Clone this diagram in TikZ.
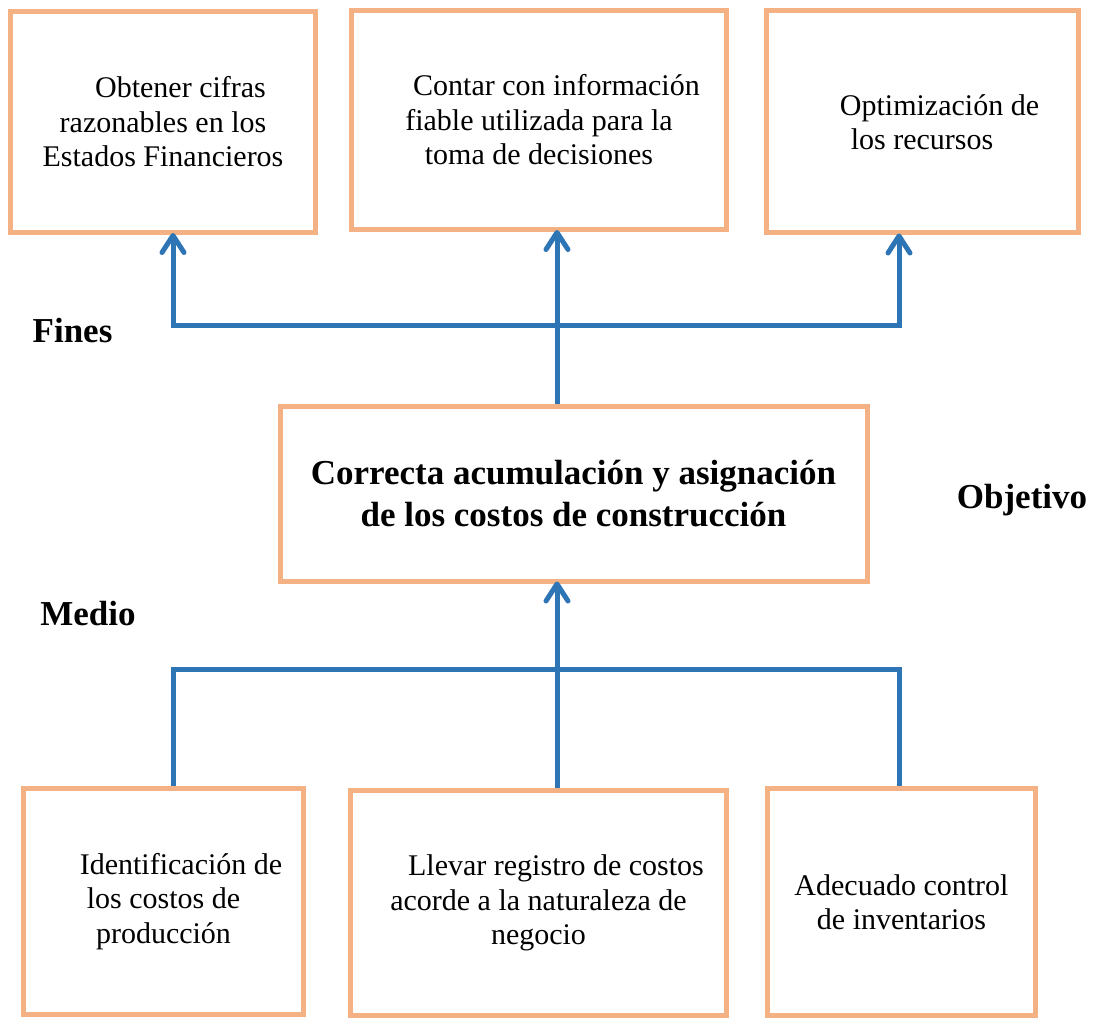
\documentclass[tikz,border=0pt]{standalone}
\usepackage{fontspec}
\setmainfont{Liberation Serif}
\usetikzlibrary{arrows.meta,%
                positioning}
\definecolor{cajanaranja}{RGB}{244,177,131}
\definecolor{lineaazul}{RGB}{46,117,182}
\tikzset{
  caja/.style={draw=cajanaranja, line width=5pt, rectangle, inner sep=0pt, align=center,
               font=\fontsize{30}{34.5}\selectfont},
  centro/.style={caja, font=\bfseries\fontsize{35}{42}\selectfont},
  rotulo/.style={anchor=base, font=\bfseries\fontsize{35}{42}\selectfont},
  punta/.tip={Straight Barb[length=17pt,width=22pt,round]},
  linea/.style={draw=lineaazul, line width=5pt}
}

\begin{document}
\begin{tikzpicture}[x=1pt,y=-1pt]
\useasboundingbox (0,0) rectangle (1096,1019);
%fines
\node[caja, minimum width=305pt, minimum height=221pt] (A) at (163,122)
  {\hspace*{35pt}Obtener cifras\\razonables en los\\Estados Financieros};
\node[caja, minimum width=375pt, minimum height=219pt] (B) at (539,120)
  {\hspace*{35pt}Contar con información\\fiable utilizada para la\\toma de decisiones};
\node[caja, minimum width=312pt, minimum height=222pt] (C) at (922,122)
  {\hspace*{35pt}Optimización de\\los recursos};
%objetivo
\node[centro, minimum width=587pt, minimum height=175pt] (M) at (573.5,493.5)
  {Correcta acumulación y asignación\\de los costos de construcción};
%medios
\node[caja, minimum width=280pt, minimum height=226pt] (D) at (163.5,901.5)
  {\hspace*{35pt}Identificación de\\los costos de\\producción};
\node[caja, minimum width=376pt, minimum height=225pt] (E) at (538.5,903)
  {\hspace*{35pt}Llevar registro de costos\\acorde a la naturaleza de\\negocio};
\node[caja, minimum width=268pt, minimum height=227pt] (F) at (901.5,902)
  {Adecuado control\\de inventarios};
\node[rotulo] (fines) at (72.5,343) {Fines};
\node[rotulo] (objetivo) at (1022,508) {Objetivo};
\node[rotulo] (medio) at (88,625) {Medio};
\coordinate (fa) at (173,326);
\coordinate (fb) at (557,326);
\coordinate (fc) at (899,326);
\coordinate (ma) at (173,669);
\coordinate (mb) at (557,669);
\coordinate (mc) at (899,669);
\draw[linea, punta-punta, shorten <=-2pt, shorten >=-2pt] (fa |- A.south) -- (fa) -- (fc) -- (fc |- C.south);
\draw[linea, -punta, shorten >=-2pt] (fb |- M.north) -- (fb |- B.south);
\draw[linea] (ma |- D.north) -- (ma) -- (mc) -- (mc |- F.north);
\draw[linea, -punta, shorten >=-2pt] (mb |- E.north) -- (mb |- M.south);
\end{tikzpicture}
\end{document}
